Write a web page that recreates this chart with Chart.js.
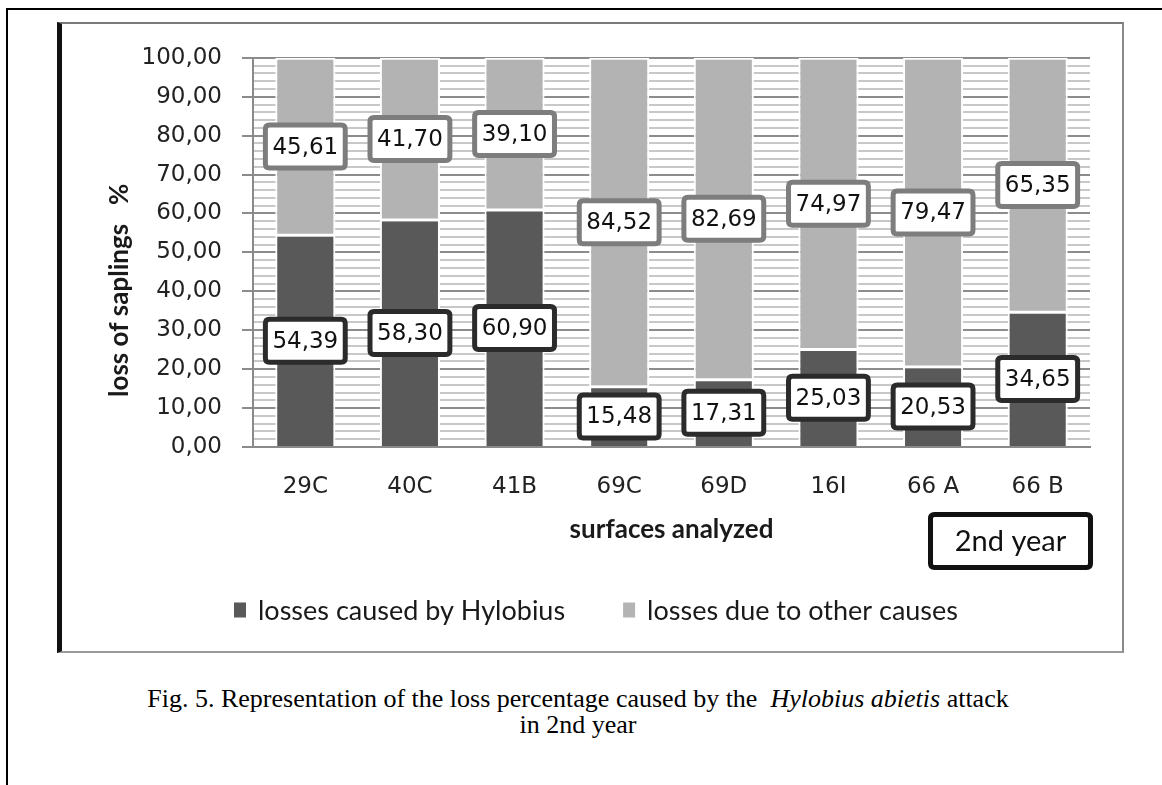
<!DOCTYPE html>
<html>
<head>
<meta charset="utf-8">
<script src="https://cdn.jsdelivr.net/npm/chart.js@4.4.1/dist/chart.umd.min.js"></script>
<style>
  html, body { margin: 0; padding: 0; background: #fff; }
  body { width: 1162px; height: 785px; position: relative; overflow: hidden; }
  #frame { position: absolute; left: 6px; top: 8px; width: 1170px; height: 790px;
           border-left: 2px solid #000; border-top: 2px solid #000; }
  #box { position: absolute; left: 57px; top: 22px; width: 1060px; height: 627px;
         border-left: 5px solid #111; border-top: 2px solid #7a7a7a;
         border-right: 2px solid #8a8a8a; border-bottom: 2px solid #999; }
  #box canvas { display: block; }
  #caption { position: absolute; left: 0; top: 686px; width: 1156px; text-align: center;
             font-family: "Liberation Serif", "Times New Roman", serif; font-size: 26px;
             line-height: 26px; color: #000; }
</style>
</head>
<body>
<div id="frame"></div>
<div id="box"><canvas id="chart" width="1060" height="627"></canvas></div>
<div id="caption">Fig. 5. Representation of the loss percentage caused by the&nbsp; <i>Hylobius abietis</i> attack<br>in 2nd year</div>
<script>
// Surfaces (plots) and the two loss components, in percent of saplings
const categories = ['29C', '40C', '41B', '69C', '69D', '16I', '66 A', '66 B'];
const hylobiusLosses = [54.39, 58.30, 60.90, 15.48, 17.31, 25.03, 20.53, 34.65];
const otherLosses = [45.61, 41.70, 39.10, 84.52, 82.69, 74.97, 79.47, 65.35];
const seriesNames = ['losses caused by Hylobius', 'losses due to other causes'];
const seriesColors = ['#595959', '#b3b3b3'];
const labelFrameColors = ['#2b2b2b', '#7d7d7d'];
const yTitle = 'loss of saplings   %';
const xTitle = 'surfaces analyzed';
const yearTag = '2nd year';

const fmt = v => v.toFixed(2).replace('.', ',');
const isMajor = v => Math.abs(v - Math.round(v / 10) * 10) < 1e-6;

function roundRectPath(ctx, x, y, w, h, r) {
  ctx.beginPath();
  ctx.moveTo(x + r, y);
  ctx.lineTo(x + w - r, y);
  ctx.quadraticCurveTo(x + w, y, x + w, y + r);
  ctx.lineTo(x + w, y + h - r);
  ctx.quadraticCurveTo(x + w, y + h, x + w - r, y + h);
  ctx.lineTo(x + r, y + h);
  ctx.quadraticCurveTo(x, y + h, x, y + h - r);
  ctx.lineTo(x, y + r);
  ctx.quadraticCurveTo(x, y, x + r, y);
  ctx.closePath();
}

// Framed value labels centred on each stacked segment
const valueBoxes = {
  id: 'valueBoxes',
  afterDatasetsDraw(chart) {
    const ctx = chart.ctx;
    ctx.save();
    ctx.font = '23px "DejaVu Sans"';
    ctx.textAlign = 'center';
    ctx.textBaseline = 'middle';
    chart.data.datasets.forEach((ds, di) => {
      const meta = chart.getDatasetMeta(di);
      meta.data.forEach((bar, i) => {
        const txt = fmt(ds.data[i]);
        const cx = bar.x;
        const cy = (bar.y + bar.base) / 2;
        const w = ctx.measureText(txt).width + 14;
        const h = 43;
        roundRectPath(ctx, cx - w / 2, cy - h / 2, w, h, 4);
        ctx.fillStyle = '#fff';
        ctx.fill();
        ctx.lineWidth = 5;
        ctx.strokeStyle = labelFrameColors[di];
        ctx.stroke();
        ctx.fillStyle = '#111';
        ctx.fillText(txt, cx, cy + 1);
      });
    });
    ctx.restore();
  }
};

// Axis titles, legend and the year tag
const decorations = {
  id: 'decorations',
  afterDraw(chart) {
    const ctx = chart.ctx;
    const area = chart.chartArea;
    ctx.save();
    ctx.fillStyle = '#1a1a1a';

    // vertical axis title
    ctx.save();
    ctx.translate(58, area.bottom - 50);
    ctx.rotate(-Math.PI / 2);
    ctx.font = 'bold 26px Lato';
    ctx.textAlign = 'left';
    ctx.textBaseline = 'middle';
    ctx.fillText(yTitle, 0, 0);
    ctx.restore();

    // horizontal axis title
    ctx.font = 'bold 26px Lato';
    ctx.textAlign = 'center';
    ctx.textBaseline = 'middle';
    ctx.fillText(xTitle, (area.left + area.right) / 2, area.bottom + 83);

    // legend
    ctx.font = '27px Lato';
    const boxW = 12, boxH = 15, gap = 12, itemGap = 58;
    const widths = seriesNames.map(n => boxW + gap + ctx.measureText(n).width);
    const total = widths.reduce((a, b) => a + b, 0) + itemGap * (widths.length - 1);
    let lx = chart.width / 2 + 4 - total / 2;
    const ly = 586;
    ctx.textAlign = 'left';
    seriesNames.forEach((n, i) => {
      ctx.fillStyle = chart.data.datasets[i].backgroundColor;
      ctx.fillRect(lx, ly - boxH / 2, boxW, boxH);
      ctx.fillStyle = '#1a1a1a';
      ctx.fillText(n, lx + boxW + gap, ly + 1);
      lx += widths[i] + itemGap;
    });

    // year tag
    const tagRight = area.right + 3, tagW = 165, tagH = 58, tagTop = area.bottom + 65;
    roundRectPath(ctx, tagRight - tagW + 2.5, tagTop + 2.5, tagW - 5, tagH - 5, 4);
    ctx.fillStyle = '#fff';
    ctx.fill();
    ctx.lineWidth = 5;
    ctx.strokeStyle = '#111';
    ctx.stroke();
    ctx.fillStyle = '#111';
    ctx.font = '29px Lato';
    ctx.textAlign = 'center';
    ctx.fillText(yearTag, tagRight - tagW / 2, tagTop + tagH / 2 + 1);
    ctx.restore();
  }
};

new Chart(document.getElementById('chart'), {
  type: 'bar',
  data: {
    labels: categories,
    datasets: [
      { label: seriesNames[0], data: hylobiusLosses, backgroundColor: seriesColors[0],
        borderColor: '#fff', borderWidth: { top: 1.5, left: 2, right: 2, bottom: 0 }, borderSkipped: false },
      { label: seriesNames[1], data: otherLosses, backgroundColor: seriesColors[1],
        borderColor: '#fff', borderWidth: { top: 2, left: 2, right: 2, bottom: 1.5 }, borderSkipped: false }
    ]
  },
  options: {
    responsive: false,
    animation: false,
    devicePixelRatio: 1,
    layout: { padding: { top: 30, right: 32, left: 0, bottom: 0 } },
    datasets: { bar: { categoryPercentage: 1, barPercentage: 0.574 } },
    plugins: { legend: { display: false }, tooltip: { enabled: false } },
    scales: {
      x: {
        stacked: true,
        grid: { drawOnChartArea: false, drawTicks: false },
        border: { color: '#8a8a8a', width: 2 },
        ticks: { font: { family: 'DejaVu Sans', size: 23 }, color: '#222', padding: 26 },
        afterFit(s) { s.height = 204; }
      },
      y: {
        stacked: true,
        min: 0,
        max: 100,
        ticks: {
          stepSize: 2,
          autoSkip: false,
          callback: v => isMajor(v) ? fmt(v) : '',
          font: { family: 'DejaVu Sans', size: 23 },
          color: '#222',
          padding: 20
        },
        grid: {
          lineWidth: 2,
          tickLength: 11,
          color: c => (c.tick && isMajor(c.tick.value)) ? '#8c8c8c' : '#c8c8c8',
          tickColor: c => (c.tick && isMajor(c.tick.value)) ? '#8c8c8c' : 'rgba(0,0,0,0)'
        },
        border: { color: '#8a8a8a', width: 2 },
        afterFit(s) { s.width = 191; }
      }
    }
  },
  plugins: [valueBoxes, decorations]
});
</script>
</body>
</html>
